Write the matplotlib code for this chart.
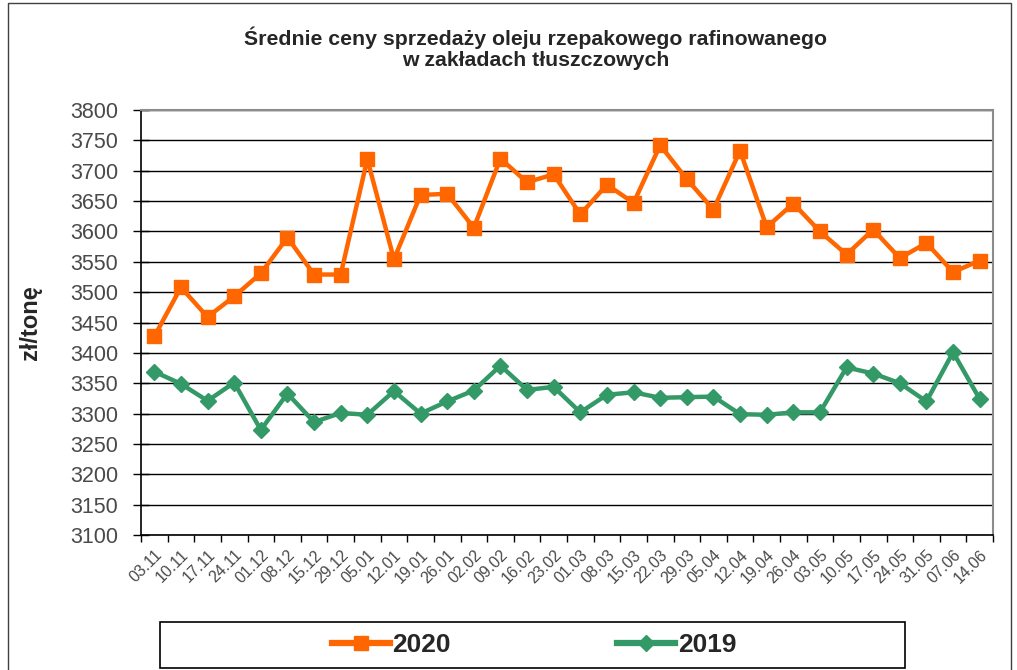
import matplotlib
matplotlib.use("Agg")
import matplotlib.pyplot as plt
from matplotlib.patches import Rectangle

plt.rcParams['font.family'] = ['Liberation Sans', 'DejaVu Sans']

dates = ["03.11", "10.11", "17.11", "24.11", "01.12", "08.12", "15.12", "29.12",
         "05.01", "12.01", "19.01", "26.01", "02.02", "09.02", "16.02", "23.02",
         "01.03", "08.03", "15.03", "22.03", "29.03", "05.04", "12.04", "19.04",
         "26.04", "03.05", "10.05", "17.05", "24.05", "31.05", "07.06", "14.06"]

prices_2020 = [3427, 3508, 3459, 3493, 3531, 3590, 3529, 3529, 3719, 3554, 3660, 3662,
               3606, 3720, 3681, 3694, 3628, 3677, 3647, 3742, 3686, 3636, 3733, 3607,
               3646, 3600, 3562, 3603, 3556, 3581, 3533, 3552]

prices_2019 = [3369, 3349, 3321, 3351, 3273, 3333, 3286, 3301, 3298, 3337, 3300, 3320,
               3338, 3379, 3339, 3344, 3302, 3331, 3335, 3326, 3327, 3328, 3299, 3298,
               3302, 3302, 3376, 3366, 3350, 3320, 3401, 3324]

yticks = list(range(3100, 3801, 50))

fig = plt.figure(figsize=(10.17, 6.70), dpi=100)
ax = fig.add_axes([141/1017, 1-535/670, (993-141)/1017, (535-110)/670])

x = list(range(len(dates)))
ax.plot(x, prices_2020, color='#FF6600', lw=3.2, marker='s', markersize=9.5,
        label='2020', zorder=3)
ax.plot(x, prices_2019, color='#339966', lw=3.2, marker='D', markersize=8.5,
        label='2019', zorder=3)

ax.set_xlim(-0.5, len(dates)-0.5)
ax.set_ylim(3100, 3800)
ax.set_yticks(yticks)
ax.set_yticklabels([str(v) for v in yticks], fontsize=15.5, color='#4a4a4a')
ax.set_xticks(x)
ax.set_xticklabels(dates, rotation=45, ha='right', rotation_mode='anchor',
                   fontsize=11.5, color='#4a4a4a')
ax.tick_params(axis='x', length=0, pad=9)
ax.set_xticks([i-0.5 for i in range(len(dates)+1)], minor=True)
ax.tick_params(axis='x', which='minor', length=5, width=1, color='black')
ax.tick_params(axis='y', direction='inout', length=11, width=1, color='black', pad=11)

ax.grid(axis='y', color='black', lw=1)
ax.set_axisbelow(True)
for s in ['left', 'bottom']:
    ax.spines[s].set_color('black')
    ax.spines[s].set_linewidth(1.2)
for s in ['top', 'right']:
    ax.spines[s].set_color('#8c8c8c')
    ax.spines[s].set_linewidth(1.5)

ax.set_ylabel('zł/tonę', fontsize=17, fontweight='bold', color='#262626')
ax.yaxis.set_label_coords(-0.116, 0.5)

fig.text(536/1017, 1-38/670, 'Średnie ceny sprzedaży oleju rzepakowego rafinowanego',
         ha='center', va='center', fontsize=15.3, fontweight='bold', color='#262626')
fig.text(536/1017, 1-61/670, 'w zakładach tłuszczowych',
         ha='center', va='center', fontsize=15.3, fontweight='bold', color='#262626')

# legend frame
fig.patches.append(Rectangle((160/1017, 1-668/670), (905-160)/1017, (668-622)/670,
                             transform=fig.transFigure, fill=False, edgecolor='black',
                             lw=1.2))
leg = fig.legend(loc='center', bbox_to_anchor=(534/1017, 1-645/670), ncol=2,
                 frameon=False, fontsize=19, handlelength=2.2, handletextpad=0.1,
                 columnspacing=6.3, markerscale=1.0)
for t in leg.get_texts():
    t.set_fontweight('bold')
    t.set_color('#262626')
for h in leg.legend_handles:
    h.set_linewidth(4.5)

# outer chart border
fig.patches.append(Rectangle((8/1017, -0.01), (1011-8)/1017, 1-3/670+0.01,
                             transform=fig.transFigure, fill=False, edgecolor='#404040',
                             lw=1))

fig.savefig('out.png', dpi=100)
